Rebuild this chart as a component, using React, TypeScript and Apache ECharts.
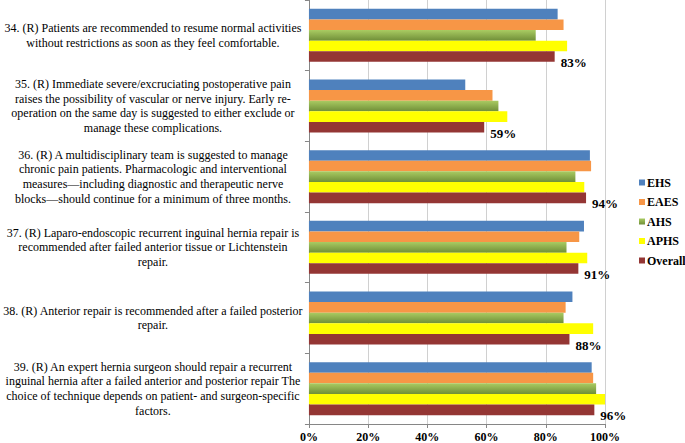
import React, { useEffect, useRef } from "react";
import * as echarts from "echarts";

const categories = [
  "34. (R) Patients are recommended to resume normal activities\nwithout restrictions as soon as they feel comfortable.",
  "35. (R) Immediate severe/excruciating postoperative pain\nraises the possibility of vascular or nerve injury. Early re-\noperation on the same day is suggested to either exclude or\nmanage these complications.",
  "36. (R) A multidisciplinary team is suggested to manage\nchronic pain patients. Pharmacologic and interventional\nmeasures\u2014including diagnostic and therapeutic nerve\nblocks\u2014should continue for a minimum of three months.",
  "37. (R) Laparo-endoscopic recurrent inguinal hernia repair is\nrecommended after failed anterior tissue or Lichtenstein\nrepair.",
  "38. (R) Anterior repair is recommended after a failed posterior\nrepair.",
  "39. (R) An expert hernia surgeon should repair a recurrent\ninguinal hernia after a failed anterior and posterior repair The\nchoice of technique depends on patient- and surgeon-specific\nfactors.",
];

const seriesNames = ["EHS", "EAES", "AHS", "APHS", "Overall"];

const ehs = [84, 52.8, 94.9, 92.9, 89, 95.5];
const eaes = [86, 62, 95.3, 91.3, 86.7, 96];
const ahs = [76.6, 64, 90, 87, 86, 97];
const aphs = [87.2, 67, 93, 94, 96, 100];
const overall = [83, 59.2, 93.6, 91, 88, 96.4];

const xTicks = [0, 20, 40, 60, 80, 100];

const FONT = "Liberation Serif, Times New Roman, serif";

export default function App() {
  const ref = useRef<HTMLDivElement>(null);

  useEffect(() => {
    if (!ref.current) return;
    const chart = echarts.init(ref.current, undefined, { renderer: "svg" });
    const green = {
      type: "linear",
      x: 0,
      y: 0,
      x2: 0,
      y2: 1,
      colorStops: [
        { offset: 0, color: "#A9CB62" },
        { offset: 1, color: "#708F38" },
      ],
    };
    const colors: any[] = ["#4F81BD", "#F79646", green, "#FFFF00", "#943634"];
    const values = [ehs, eaes, ahs, aphs, overall];

    const series = seriesNames.map((name, i) => ({
      name,
      type: "bar",
      data: values[i],
      barGap: "0%",
      barCategoryGap: "25%",
      itemStyle: { color: colors[i] },
      label:
        name === "Overall"
          ? {
              show: true,
              position: "right",
              distance: 6,
              offset: [0, 6],
              formatter: (p: any) => Math.round(p.value) + "%",
              fontFamily: FONT,
              fontWeight: "bold",
              fontSize: 13,
              color: "#000",
            }
          : { show: false },
    }));

    chart.setOption({
      animation: false,
      backgroundColor: "#fff",
      textStyle: { fontFamily: FONT },
      grid: { left: 306, right: 80, top: 0, bottom: 19 },
      legend: {
        orient: "vertical",
        left: 634,
        top: "middle",
        itemWidth: 6,
        itemHeight: 6,
        itemGap: 7.5,
        icon: "rect",
        data: seriesNames,
        textStyle: {
          fontFamily: FONT,
          fontWeight: "bold",
          fontSize: 12,
          color: "#000",
          padding: [0, 0, 0, -3],
        },
      },
      xAxis: {
        type: "value",
        min: 0,
        max: 100,
        interval: 20,
        axisLine: { show: true, lineStyle: { color: "#868686" } },
        axisTick: { show: true, length: 4, lineStyle: { color: "#868686" } },
        splitLine: { show: true, lineStyle: { color: "#D0D0D0" } },
        axisLabel: {
          formatter: (v: number) => (xTicks.includes(v) ? v + "%" : ""),
          fontFamily: FONT,
          fontWeight: "bold",
          fontSize: 12,
          color: "#000",
          margin: 7,
        },
      },
      yAxis: {
        type: "category",
        inverse: true,
        data: categories,
        axisLine: { show: true, lineStyle: { color: "#868686" } },
        axisTick: { show: true, length: 4, lineStyle: { color: "#868686" } },
        axisLabel: {
          align: "center",
          margin: 156,
          fontFamily: FONT,
          fontSize: 12,
          lineHeight: 14.7,
          color: "#000",
        },
      },
      series,
    });
    return () => chart.dispose();
  }, []);

  return <div ref={ref} style={{ width: 685, height: 443, position: "absolute", left: 0, top: 0 }} />;
}
